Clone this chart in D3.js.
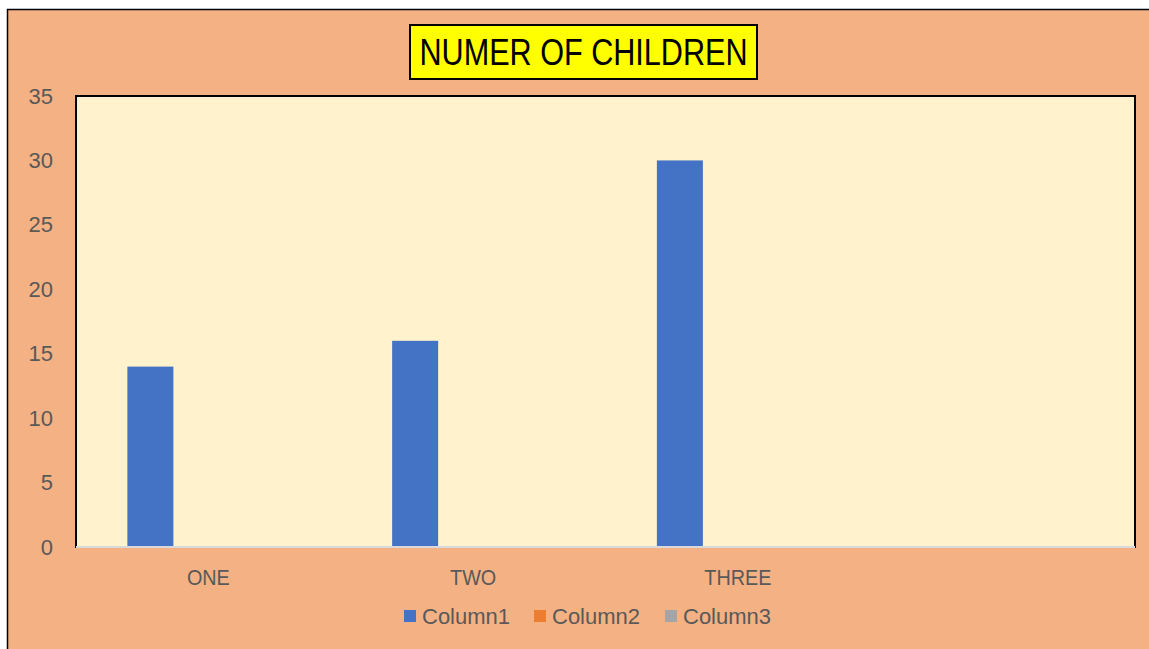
<!DOCTYPE html>
<html>
<head>
<meta charset="utf-8">
<script src="https://cdn.jsdelivr.net/npm/d3@7"></script>
<style>
body { margin: 0; background: #ffffff; }
text { font-family: "Liberation Sans", Arial, sans-serif; }
</style>
</head>
<body>
<script>
// chart data
var categories = ["ONE", "TWO", "THREE", ""]
var seriesNames = ["Column1", "Column2", "Column3"]
var column1 = [14, 16, 30, null]
var column2 = [0, 0, 0, null]
var column3 = [0, 0, 0, null]
var yTicks = [0, 5, 10, 15, 20, 25, 30, 35]
var titleText = "NUMER OF CHILDREN"

var colors = ["#4472C4", "#ED7D31", "#A5A5A5"]

var screen = {width: 1149, height: 649}
var plot = {left: 76, top: 96, right: 1135, bottom: 547}

var svg = d3.select("body")
    .append("svg")
    .attr("width", screen.width)
    .attr("height", screen.height)

// outer chart area
svg.append("rect")
    .attr("x", 7.5)
    .attr("y", 9.5)
    .attr("width", screen.width)
    .attr("height", screen.height)
    .attr("fill", "#F4B183")
    .attr("stroke", "#000")
    .attr("stroke-width", 1.5)

// plot area
svg.append("rect")
    .attr("x", plot.left)
    .attr("y", plot.top)
    .attr("width", plot.right - plot.left)
    .attr("height", plot.bottom - plot.top)
    .attr("fill", "#FFF2CC")
    .attr("stroke", "#000")
    .attr("stroke-width", 2)

var xScale = d3.scaleBand()
    .domain(categories.map(function(d, i) { return i }))
    .range([plot.left, plot.right])

var sScale = d3.scaleBand()
    .domain(seriesNames)
    .range([0, xScale.bandwidth()])
    .paddingInner(0.207)
    .paddingOuter(0.886)

var yScale = d3.scaleLinear()
    .domain([0, 35])
    .range([plot.bottom, plot.top])

var table = categories.map(function(c, i) {
    return {cat: i, values: [column1[i], column2[i], column3[i]]}
})

var groups = svg.append("g")
    .selectAll("g")
    .data(table)
    .enter()
    .append("g")
    .attr("transform", function(d) { return "translate(" + xScale(d.cat) + ",0)" })

groups.selectAll("rect")
    .data(function(d) {
        return d.values.map(function(v, k) { return {name: seriesNames[k], value: v, k: k} })
            .filter(function(e) { return e.value != null })
    })
    .enter()
    .append("rect")
    .attr("x", function(d) { return sScale(d.name) })
    .attr("y", function(d) { return yScale(d.value) })
    .attr("width", sScale.bandwidth())
    .attr("height", function(d) { return yScale(0) - yScale(d.value) })
    .attr("fill", function(d) { return colors[d.k] })

// x axis line
svg.append("line")
    .attr("x1", plot.left)
    .attr("x2", plot.right)
    .attr("y1", plot.bottom)
    .attr("y2", plot.bottom)
    .attr("stroke", "#D9D9D9")
    .attr("stroke-width", 2)

// y axis
var yAxis = d3.axisLeft(yScale)
    .tickValues(yTicks)
    .tickSize(0)
    .tickPadding(0)

var yg = svg.append("g")
    .attr("transform", "translate(53,0)")
    .call(yAxis)
yg.select(".domain").remove()
yg.selectAll("text")
    .attr("fill", "#595959")
    .style("font-size", "22px")
    .style("font-family", "'Liberation Sans', Arial, sans-serif")

// x axis labels
var xAxis = d3.axisBottom(xScale)
    .tickFormat(function(i) { return categories[i] })
    .tickSize(0)
    .tickPadding(0)

var xg = svg.append("g")
    .attr("transform", "translate(0," + (plot.bottom + 22) + ")")
    .call(xAxis)
xg.select(".domain").remove()
xg.selectAll("text")
    .attr("fill", "#595959")
    .style("font-size", "22px")
    .style("font-family", "'Liberation Sans', Arial, sans-serif")
    .each(function() {
        // slightly condensed, like the original face
        var len = this.getComputedTextLength()
        if (len > 0) {
            d3.select(this)
                .attr("textLength", len * 0.9)
                .attr("lengthAdjust", "spacingAndGlyphs")
        }
    })

// title
svg.append("rect")
    .attr("x", 410)
    .attr("y", 25)
    .attr("width", 347)
    .attr("height", 54)
    .attr("fill", "#FFFF00")
    .attr("stroke", "#000")
    .attr("stroke-width", 2)

svg.append("text")
    .attr("x", 583.5)
    .attr("y", 65)
    .attr("text-anchor", "middle")
    .attr("textLength", 328)
    .attr("lengthAdjust", "spacingAndGlyphs")
    .style("font-size", "37px")
    .attr("fill", "#000")
    .text(titleText)

// legend
var legendX = [404, 534, 665]
var legend = svg.append("g")
    .selectAll("g")
    .data(seriesNames)
    .enter()
    .append("g")
    .attr("transform", function(d, i) { return "translate(" + legendX[i] + ",610)" })

legend.append("rect")
    .attr("width", 12)
    .attr("height", 12)
    .attr("fill", function(d, i) { return colors[i] })

legend.append("text")
    .attr("x", 18)
    .attr("y", 14)
    .attr("fill", "#595959")
    .style("font-size", "22px")
    .text(function(d) { return d })
</script>
</body>
</html>
